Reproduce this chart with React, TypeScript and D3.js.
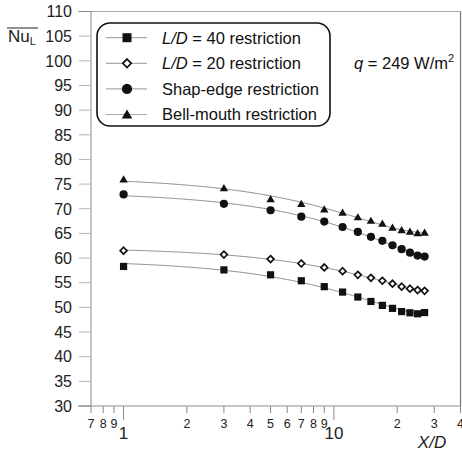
import React from "react";
import * as d3 from "d3";

const xValues = [1, 3, 5, 7, 9, 11, 13, 15, 17, 19, 21, 23, 25, 27];
const ld40 = [58.3, 57.6, 56.6, 55.4, 54.2, 53.1, 52.1, 51.2, 50.4, 49.8, 49.15, 48.9, 48.7, 48.95];
const ld20 = [61.5, 60.7, 59.8, 58.9, 58.1, 57.35, 56.6, 56.0, 55.4, 54.8, 54.2, 53.8, 53.5, 53.35];
const sharp = [72.9, 71.0, 69.7, 68.4, 67.4, 66.3, 65.3, 64.3, 63.5, 62.6, 61.8, 61.1, 60.5, 60.3];
const bell = [76.0, 74.2, 72.0, 71.0, 69.9, 69.25, 68.3, 67.6, 67.0, 66.2, 65.7, 65.4, 65.1, 65.2];

const yTicks = [30, 35, 40, 45, 50, 55, 60, 65, 70, 75, 80, 85, 90, 95, 100, 105, 110];
const xMinorTicks = [0.7, 0.8, 0.9, 2, 3, 4, 5, 6, 7, 8, 9, 20, 30, 40];
const xMinorLabels = ["7", "8", "9", "2", "3", "4", "5", "6", "7", "8", "9", "2", "3", "4"];
const xMajorTicks = [1, 10];
const xMajorLabels = ["1", "10"];

type Series = { name: string; italic: string; rest: string; values: number[]; shape: string };
const seriesList: Series[] = [
  { name: "ld40", italic: "L/D", rest: " = 40 restriction", values: ld40, shape: "square" },
  { name: "ld20", italic: "L/D", rest: " = 20 restriction", values: ld20, shape: "diamond" },
  { name: "sharp", italic: "", rest: "Shap-edge restriction", values: sharp, shape: "circle" },
  { name: "bell", italic: "", rest: "Bell-mouth restriction", values: bell, shape: "triangle" },
];

function polyfit2(xs: number[], ys: number[]): number[] {
  // least squares quadratic: y = a + b x + c x^2
  const n = xs.length;
  let s0 = n, s1 = 0, s2 = 0, s3 = 0, s4 = 0, t0 = 0, t1 = 0, t2 = 0;
  for (let i = 0; i < n; i++) {
    const x = xs[i], y = ys[i];
    s1 += x; s2 += x * x; s3 += x * x * x; s4 += x * x * x * x;
    t0 += y; t1 += x * y; t2 += x * x * y;
  }
  const M = [
    [s0, s1, s2, t0],
    [s1, s2, s3, t1],
    [s2, s3, s4, t2],
  ];
  for (let i = 0; i < 3; i++) {
    let p = i;
    for (let k = i + 1; k < 3; k++) if (Math.abs(M[k][i]) > Math.abs(M[p][i])) p = k;
    [M[i], M[p]] = [M[p], M[i]];
    for (let k = 0; k < 3; k++) {
      if (k === i) continue;
      const f = M[k][i] / M[i][i];
      for (let j = i; j < 4; j++) M[k][j] -= f * M[i][j];
    }
  }
  return [M[0][3] / M[0][0], M[1][3] / M[1][1], M[2][3] / M[2][2]];
}

function Marker({ shape, x, y, s = 1 }: { shape: string; x: number; y: number; s?: number }) {
  if (shape === "square") {
    const h = 3.6 * s;
    return <rect x={x - h} y={y - h} width={2 * h} height={2 * h} fill="#111" />;
  }
  if (shape === "circle") {
    return <circle cx={x} cy={y} r={4.1 * s} fill="#111" />;
  }
  if (shape === "triangle") {
    const w = 4.2 * s, h = 7.2 * s;
    return <path d={`M${x},${y - h * 0.55}L${x + w},${y + h * 0.45}L${x - w},${y + h * 0.45}Z`} fill="#111" />;
  }
  const r = 3.4 * s;
  return (
    <path
      d={`M${x},${y - r}L${x + r},${y}L${x},${y + r}L${x - r},${y}Z`}
      fill="#fff"
      stroke="#111"
      strokeWidth={1.7}
    />
  );
}

export default function App() {
  const W = 462, H = 453;
  const x = d3.scaleLog().domain([0.7, 40]).range([91, 460.5]);
  const y = d3.scaleLinear().domain([30, 110]).range([406, 11.5]);
  const font = "'Liberation Sans', Arial, Helvetica, sans-serif";
  const axisColor = "#8a8a8a";

  const line = d3
    .line<number>()
    .x((d) => x(d))
    .y((d, i) => d)
    .curve(d3.curveLinear);

  const sampleXs = d3.range(0, 201).map((i) => 1 * Math.pow(27, i / 200));

  return (
    <svg width={W} height={H} style={{ position: "absolute", left: 0, top: 0 }} fontFamily={font}>
      <rect x={0} y={0} width={W} height={H} fill="#fff" />
      {/* frame */}
      <line x1={78} x2={460.5} y1={y(110)} y2={y(110)} stroke="#aaa" strokeWidth={1} />
      <line x1={460.5} x2={460.5} y1={y(110)} y2={y(30)} stroke="#777" strokeWidth={1.2} />
      {/* y axis */}
      <line x1={91} x2={91} y1={y(110)} y2={y(30)} stroke={axisColor} strokeWidth={1} />
      {yTicks.map((t) => (
        <g key={t}>
          <line x1={79} x2={91} y1={y(t)} y2={y(t)} stroke={t === 30 || t === 110 ? axisColor : "#b5b5b5"} strokeWidth={1} />
          <text x={72} y={y(t)} dy="0.36em" textAnchor="end" fontSize={16} fill="#222">
            {t}
          </text>
        </g>
      ))}
      {/* x axis */}
      <line x1={78} x2={460.5} y1={y(30)} y2={y(30)} stroke={axisColor} strokeWidth={1} />
      {xMinorTicks.map((t, i) => (
        <g key={"m" + i}>
          <line x1={x(t)} x2={x(t)} y1={y(30)} y2={413} stroke={axisColor} strokeWidth={1} />
          <text x={x(t)} y={428} textAnchor="middle" fontSize={12.5} fill="#222">
            {xMinorLabels[i]}
          </text>
        </g>
      ))}
      {xMajorTicks.map((t, i) => (
        <g key={"M" + i}>
          <line x1={x(t)} x2={x(t)} y1={y(30)} y2={420} stroke={axisColor} strokeWidth={1} />
          <text x={x(t)} y={439} textAnchor="middle" fontSize={17} fill="#222">
            {xMajorLabels[i]}
          </text>
        </g>
      ))}
      <text x={432} y={448} textAnchor="middle" fontSize={17} fontStyle="italic" fill="#222">
        X/D
      </text>
      {/* y label */}
      <text x={8} y={42} fontSize={17} fill="#222">
        Nu<tspan fontSize={11} dy={3}>L</tspan>
      </text>
      <line x1={7} x2={38} y1={28} y2={28} stroke="#222" strokeWidth={1} />
      {/* trend lines */}
      {seriesList.map((s) => {
        const [a, b, c] = polyfit2(xValues, s.values);
        const pts = sampleXs.map((v) => [x(v), y(a + b * v + c * v * v)] as [number, number]);
        const path = d3.line()(pts);
        return <path key={"l" + s.name} d={path || ""} fill="none" stroke="#8c8c8c" strokeWidth={1} />;
      })}
      {/* markers */}
      {seriesList.map((s) =>
        s.values.map((v, i) => <Marker key={s.name + i} shape={s.shape} x={x(xValues[i])} y={y(v)} />)
      )}
      {/* legend */}
      <rect x={97} y={23} width={233} height={103} rx={13} ry={13} fill="#fff" stroke="#111" strokeWidth={1.6} />
      {seriesList.map((s, i) => {
        const ly = 37.7 + i * 25.6;
        return (
          <g key={"lg" + s.name}>
            <line x1={106} x2={147} y1={ly} y2={ly} stroke="#aaa" strokeWidth={1.2} />
            <Marker shape={s.shape} x={127} y={ly} s={1.25} />
            <text x={162} y={ly} dy="0.36em" fontSize={16.5} fill="#111">
              {s.italic ? <tspan fontStyle="italic">{s.italic}</tspan> : null}
              {s.rest}
            </text>
          </g>
        );
      })}
      <text x={354} y={69} fontSize={16.5} fill="#111">
        <tspan fontStyle="italic">q</tspan> = 249 W/m<tspan fontSize={11} dy={-7}>2</tspan>
      </text>
    </svg>
  );
}
